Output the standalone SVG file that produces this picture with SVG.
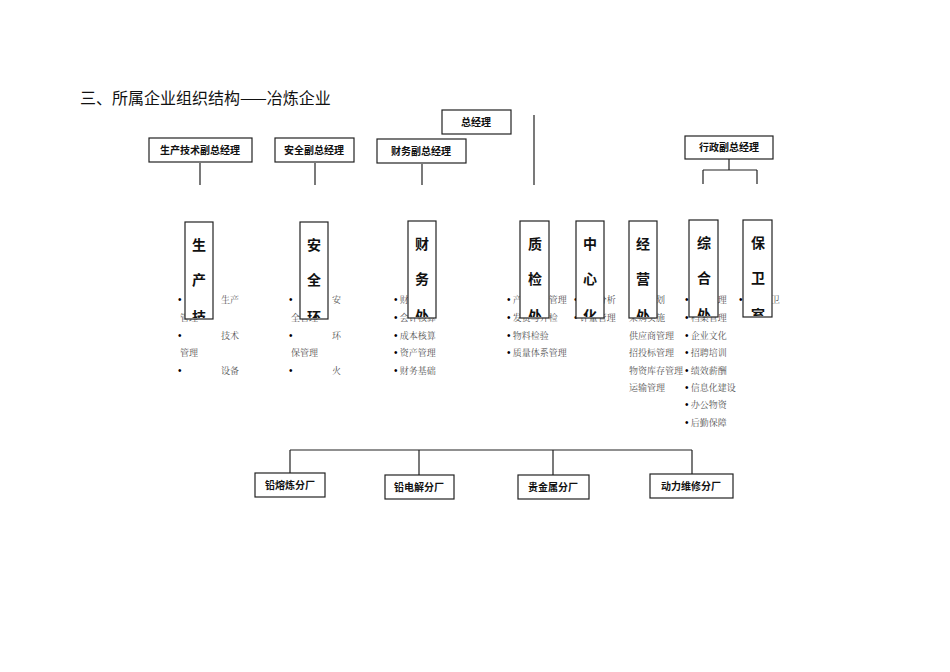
<svg xmlns="http://www.w3.org/2000/svg" width="950" height="672" viewBox="0 0 950 672">
<style>
.b{fill:#fff;stroke:#222;stroke-width:1.2}
.t{font-family:"Noto Sans CJK SC",sans-serif;font-size:10px;font-weight:bold;fill:#111;text-anchor:middle}
.v{font-family:"Noto Sans CJK SC",sans-serif;font-size:14px;font-weight:bold;fill:#111;text-anchor:middle}
.l{font-family:"Noto Serif CJK SC","Noto Sans CJK SC",serif;font-size:9px;fill:#555}
.d{font-family:"Liberation Sans",sans-serif;font-size:10px;fill:#000}
.c{stroke:#222;stroke-width:1.2;fill:none}
</style>
<rect width="950" height="672" fill="#fff"/>
<text x="80" y="104" style="font-family:'Noto Sans CJK SC',sans-serif;font-size:16px;fill:#111">三、所属企业组织结构——冶炼企业</text>
<g id="connectors">
<path class="c" d="M200 163V185M315 163V185M422 164V185M534 115V185M729 159V170M703 170H757M703 170V184M757 170V184M290 450H692M290 450V473M419 450V475M553 450V475M692 450V474"/>
</g>
<g id="lists" class="l">
<text x="178" y="303"><tspan class="d">•</tspan></text><text x="221" y="303">生产</text><text x="180" y="321">管理</text>
<text x="178" y="339"><tspan class="d">•</tspan></text><text x="221" y="339">技术</text><text x="180" y="356">管理</text>
<text x="178" y="374"><tspan class="d">•</tspan></text><text x="221" y="374">设备</text>
<text x="289" y="303"><tspan class="d">•</tspan></text><text x="332" y="303">安</text><text x="291" y="321">全管理</text>
<text x="289" y="339"><tspan class="d">•</tspan></text><text x="332" y="339">环</text><text x="291" y="356">保管理</text>
<text x="289" y="374"><tspan class="d">•</tspan></text><text x="332" y="374">火</text>
<text x="394" y="303"><tspan class="d">•</tspan> 财务管理</text><text x="394" y="321"><tspan class="d">•</tspan> 会计核算</text><text x="394" y="339"><tspan class="d">•</tspan> 成本核算</text><text x="394" y="356"><tspan class="d">•</tspan> 资产管理</text><text x="394" y="374"><tspan class="d">•</tspan> 财务基础</text>
<text x="507" y="303"><tspan class="d">•</tspan> 产品质量管理</text><text x="507" y="321"><tspan class="d">•</tspan> 发货与开检</text><text x="507" y="339"><tspan class="d">•</tspan> 物料检验</text><text x="507" y="356"><tspan class="d">•</tspan> 质量体系管理</text>
<text x="574" y="303"><tspan class="d">•</tspan> 化验分析</text><text x="574" y="321"><tspan class="d">•</tspan> 计量管理</text>
<text x="629" y="303">经营计划</text><text x="629" y="321">采购实施</text><text x="629" y="339">供应商管理</text><text x="629" y="356">招投标管理</text><text x="629" y="374">物资库存管理</text><text x="629" y="391">运输管理</text>
<text x="685" y="303"><tspan class="d">•</tspan> 人事管理</text><text x="685" y="321"><tspan class="d">•</tspan> 档案管理</text><text x="685" y="339"><tspan class="d">•</tspan> 企业文化</text><text x="685" y="356"><tspan class="d">•</tspan> 招聘培训</text><text x="685" y="374"><tspan class="d">•</tspan> 绩效薪酬</text><text x="685" y="391"><tspan class="d">•</tspan> 信息化建设</text><text x="685" y="408"><tspan class="d">•</tspan> 办公物资</text><text x="685" y="426"><tspan class="d">•</tspan> 后勤保障</text>
<text x="739" y="303"><tspan class="d">•</tspan></text><text x="771" y="303">卫</text>
</g>
<g id="n-zjl"><rect class="b" x="442" y="110" width="69" height="24"/><text class="t" x="476" y="126">总经理</text></g>
<g id="n-sc"><rect class="b" x="149" y="138" width="103" height="24"/><text class="t" x="200" y="154">生产技术副总经理</text></g>
<g id="n-aq"><rect class="b" x="275" y="138" width="79" height="24"/><text class="t" x="314" y="154">安全副总经理</text></g>
<g id="n-cw"><rect class="b" x="377" y="139" width="89" height="24"/><text class="t" x="421" y="155">财务副总经理</text></g>
<g id="n-xz"><rect class="b" x="685" y="136" width="88" height="23"/><text class="t" x="729" y="151">行政副总经理</text></g>
<defs>
<clipPath id="k1"><rect x="185" y="222" width="28" height="96"/></clipPath>
<clipPath id="k2"><rect x="300" y="222" width="28" height="96"/></clipPath>
<clipPath id="k3"><rect x="408" y="221" width="28" height="96"/></clipPath>
<clipPath id="k4"><rect x="520" y="221" width="29" height="96"/></clipPath>
<clipPath id="k5"><rect x="576" y="221" width="28" height="96"/></clipPath>
<clipPath id="k6"><rect x="629" y="221" width="28" height="96"/></clipPath>
<clipPath id="k7"><rect x="689" y="220" width="29" height="96"/></clipPath>
<clipPath id="k8"><rect x="743" y="220" width="29" height="96"/></clipPath>
</defs>
<g id="d-sc"><rect class="b" x="185" y="222" width="28" height="97"/><g clip-path="url(#k1)"><text class="v" x="199" y="250">生</text><text class="v" x="199" y="285">产</text><text class="v" x="199" y="322">技</text></g></g>
<g id="d-aq"><rect class="b" x="300" y="222" width="28" height="97"/><g clip-path="url(#k2)"><text class="v" x="314" y="250">安</text><text class="v" x="314" y="285">全</text><text class="v" x="314" y="322">环</text></g></g>
<g id="d-cw"><rect class="b" x="408" y="221" width="28" height="97"/><g clip-path="url(#k3)"><text class="v" x="422" y="249">财</text><text class="v" x="422" y="284">务</text><text class="v" x="422" y="321">处</text></g></g>
<g id="d-zj"><rect class="b" x="520" y="221" width="29" height="97"/><g clip-path="url(#k4)"><text class="v" x="535" y="249">质</text><text class="v" x="535" y="284">检</text><text class="v" x="535" y="321">处</text></g></g>
<g id="d-zx"><rect class="b" x="576" y="221" width="28" height="97"/><g clip-path="url(#k5)"><text class="v" x="590" y="249">中</text><text class="v" x="590" y="284">心</text><text class="v" x="590" y="321">化</text></g></g>
<g id="d-jy"><rect class="b" x="629" y="221" width="28" height="97"/><g clip-path="url(#k6)"><text class="v" x="643" y="249">经</text><text class="v" x="643" y="284">营</text><text class="v" x="643" y="321">处</text></g></g>
<g id="d-zh"><rect class="b" x="689" y="220" width="29" height="97"/><g clip-path="url(#k7)"><text class="v" x="704" y="248">综</text><text class="v" x="704" y="283">合</text><text class="v" x="704" y="320">处</text></g></g>
<g id="d-bw"><rect class="b" x="743" y="220" width="29" height="97"/><g clip-path="url(#k8)"><text class="v" x="758" y="248">保</text><text class="v" x="758" y="283">卫</text><text class="v" x="758" y="320">室</text></g></g>
<g id="f1"><rect class="b" x="255" y="473" width="70" height="24"/><text class="t" x="290" y="489">铅熔炼分厂</text></g>
<g id="f2"><rect class="b" x="385" y="475" width="69" height="24"/><text class="t" x="419" y="491">铅电解分厂</text></g>
<g id="f3"><rect class="b" x="518" y="475" width="71" height="24"/><text class="t" x="553" y="491">贵金属分厂</text></g>
<g id="f4"><rect class="b" x="650" y="474" width="83" height="24"/><text class="t" x="691" y="490">动力维修分厂</text></g>
</svg>
